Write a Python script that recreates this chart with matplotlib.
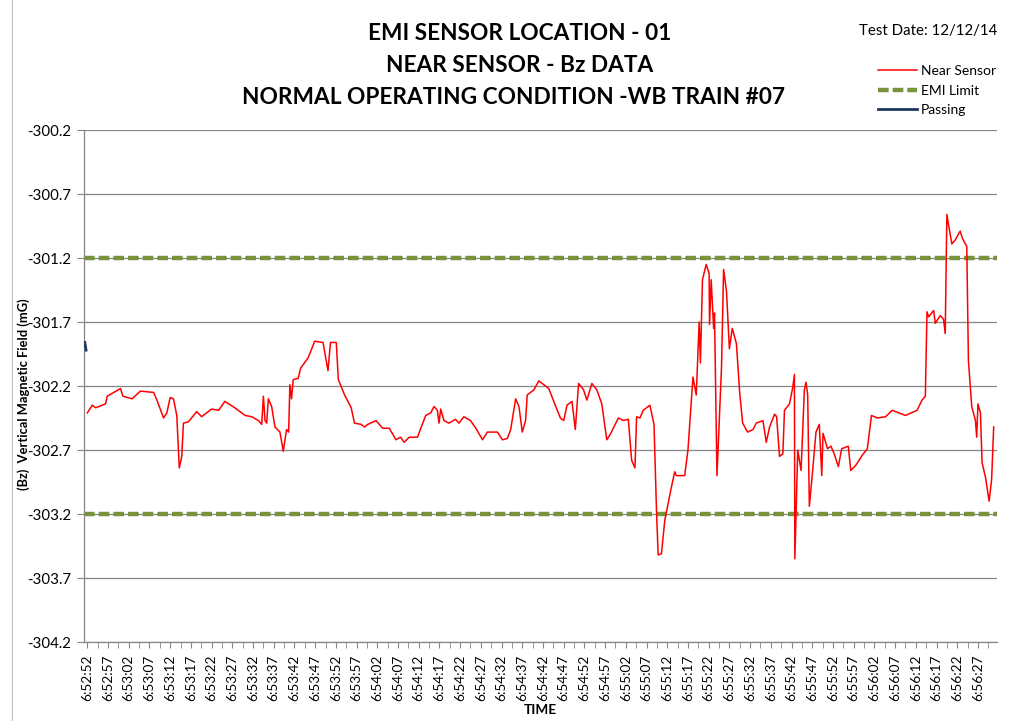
import matplotlib
matplotlib.use("Agg")
import matplotlib.pyplot as plt
from matplotlib.lines import Line2D
import numpy as np

plt.rcParams['font.family'] = ['Lato', 'DejaVu Sans']

# ---- data ----
start_time = (6, 52, 52)  # h, m, s
# seconds after 6:52:52
near_t = [0.0, 1.2, 2.0, 4.4, 4.8, 8.0, 8.6, 10.8, 12.8, 16.0, 16.8, 18.4, 19.2, 20.0, 20.8,
          21.6, 22.2, 22.8, 23.2, 24.4, 26.4, 27.6, 30.0, 31.7, 33.2, 35.6, 38.1, 39.7, 41.3,
          42.1, 42.5, 42.9, 43.3, 43.7, 44.5, 45.3, 46.5, 47.3, 48.1, 48.6, 48.9, 49.3, 49.7,
          50.9, 51.5, 53.3, 54.9, 56.9, 58.1, 58.7, 60.1, 60.6, 62.1, 63.7, 64.5, 66.1, 66.9,
          67.7, 69.7, 71.3, 72.9, 74.5, 75.6, 76.5, 77.7, 79.7, 80.5, 81.7, 82.9, 83.7, 84.5,
          84.9, 85.3, 86.1, 87.3, 88.9, 89.7, 90.9, 92.5, 93.8, 95.4, 96.6, 99.0, 100.2, 101.4,
          102.2, 103.4, 104.2, 105.0, 105.8, 106.2, 107.8, 109.0, 110.2, 111.4, 112.6, 114.2,
          115.0, 115.8, 117.0, 117.8, 118.6, 119.8, 120.6, 121.8, 123.0, 124.2, 125.4, 126.2,
          128.2, 129.4, 130.6, 131.4, 132.2, 132.6, 133.4, 134.2, 135.8, 136.8, 137.4, 137.8,
          138.6, 139.4, 141.0, 141.8, 142.2, 144.2, 145.0, 146.2, 147.0, 147.7, 148.0, 148.5,
          149.4, 150.1, 150.2, 150.6, 151.2, 151.4, 152.0, 152.6, 153.1, 153.6, 154.3, 155.0,
          155.7, 156.7, 157.5, 158.2, 159.4, 160.7, 161.5, 163.1, 163.9, 164.7, 165.9, 166.4,
          167.1, 167.9, 168.3, 169.5, 170.3, 170.7, 170.8, 171.5, 172.3, 173.1, 173.5, 173.9,
          174.3, 175.1, 175.9, 176.7, 177.3, 177.6, 178.7, 179.5, 180.3, 181.3, 182.1, 183.7,
          184.3, 185.5, 187.1, 188.3, 189.3, 190.7, 192.7, 194.3, 197.5, 200.3, 201.5, 202.3,
          202.7, 203.1, 204.3, 204.7, 205.9, 206.7, 207.1, 207.5, 207.9, 208.7, 209.5, 210.7,
          211.3, 212.3, 212.7, 213.5, 214.4, 214.7, 215.0, 215.6, 216.0, 216.8, 217.7, 218.3,
          218.8]
near_bz = [-302.41, -302.35, -302.37, -302.34, -302.28, -302.22, -302.28, -302.30, -302.24,
           -302.25, -302.31, -302.45, -302.41, -302.29, -302.30, -302.43, -302.84, -302.75,
           -302.49, -302.48, -302.40, -302.44, -302.38, -302.39, -302.32, -302.37, -302.43,
           -302.44, -302.47, -302.50, -302.28, -302.47, -302.49, -302.30, -302.36, -302.52,
           -302.56, -302.71, -302.54, -302.56, -302.19, -302.30, -302.15, -302.14, -302.06,
           -301.98, -301.85, -301.86, -302.08, -301.86, -301.86, -302.15, -302.27, -302.37,
           -302.49, -302.50, -302.52, -302.50, -302.47, -302.53, -302.53, -302.62, -302.60,
           -302.64, -302.60, -302.60, -302.53, -302.43, -302.41, -302.36, -302.39, -302.49,
           -302.38, -302.47, -302.49, -302.46, -302.49, -302.44, -302.47, -302.53, -302.62,
           -302.56, -302.56, -302.62, -302.61, -302.54, -302.30, -302.36, -302.56, -302.47,
           -302.27, -302.23, -302.16, -302.19, -302.22, -302.32, -302.45, -302.47, -302.35,
           -302.32, -302.54, -302.18, -302.23, -302.31, -302.18, -302.23, -302.34, -302.62,
           -302.58, -302.45, -302.47, -302.46, -302.78, -302.84, -302.44, -302.45, -302.39,
           -302.35, -302.50, -303.17, -303.52, -303.51, -303.25, -302.99, -302.87, -302.90,
           -302.90, -302.70, -302.13, -302.27, -301.70, -302.02, -301.37, -301.25, -301.32,
           -301.72, -301.37, -301.75, -301.63, -302.90, -302.44, -302.05, -301.29, -301.46,
           -301.91, -301.75, -301.87, -302.26, -302.49, -302.56, -302.54, -302.49, -302.47,
           -302.64, -302.52, -302.42, -302.44, -302.75, -302.73, -302.39, -302.34, -302.21,
           -302.11, -303.55, -302.70, -302.86, -302.23, -302.17, -302.27, -303.14, -302.86,
           -302.56, -302.50, -302.90, -302.57, -302.69, -302.67, -302.73, -302.83, -302.69,
           -302.67, -302.86, -302.82, -302.74, -302.69, -302.43, -302.45, -302.44, -302.39,
           -302.43, -302.39, -302.31, -302.28, -301.62, -301.66, -301.61, -301.71, -301.65,
           -301.68, -301.79, -300.86, -300.94, -301.09, -301.06, -300.99, -301.05, -301.11,
           -302.00, -302.36, -302.47, -302.60, -302.34, -302.41, -302.80, -302.91, -303.10,
           -302.93, -302.52]
passing_t = [-0.6, -0.3]
passing_bz = [-301.86, -301.92]
emi_limits = [-301.2, -303.2]
y_ticks = [-304.2, -303.7, -303.2, -302.7, -302.2, -301.7, -301.2, -300.7, -300.2]
label_step = 5
n_labels = 44

title_lines = ["EMI SENSOR LOCATION - 01", "NEAR SENSOR - Bz DATA",
               "NORMAL OPERATING CONDITION -WB TRAIN #07"]

def fmt_time(sec):
    h, m, s = start_time
    tot = h * 3600 + m * 60 + s + int(round(sec))
    return f"{tot // 3600}:{(tot % 3600) // 60:02d}:{tot % 60:02d}"

# ---- figure ----
W, H = 1023, 721
fig = plt.figure(figsize=(W / 100, H / 100), dpi=100)
ax = fig.add_axes([84 / W, 1 - 642 / H, (997 - 84) / W, (642 - 130) / H])

grid_c = '#868686'
for v in y_ticks:
    ax.axhline(v, color=grid_c, lw=0.9, zorder=1)

t_max = 219.6
t_min = -0.8
for v in emi_limits:
    ax.plot([t_min, t_max], [v, v], color='#77933C', lw=3.2,
            linestyle=(0, (2.4, 0.9)), zorder=2)
ax.plot(near_t, near_bz, color='#FF0000', lw=1.1, zorder=3)
ax.plot(passing_t, passing_bz, color='#1F3864', lw=2.0, zorder=4)

ax.set_xlim(t_min, t_max)
ax.set_ylim(-304.2, -300.2)
ax.set_yticks(y_ticks)
ax.set_yticklabels([f"{v:.1f}" for v in y_ticks])

major = [i * label_step for i in range(n_labels)]
ax.set_xticks(major)
ax.set_xticklabels([fmt_time(s) for s in major], rotation=90, fontsize=9.8)
ax.set_xticks([s + 2.5 for s in major], minor=True)
ax.tick_params(axis='x', which='both', length=4, color=grid_c, pad=5)
ax.tick_params(axis='y', length=5, color=grid_c, labelsize=10.8, pad=4)

for s in ['top', 'right']:
    ax.spines[s].set_visible(False)
for s in ['left', 'bottom']:
    ax.spines[s].set_color(grid_c)
    ax.spines[s].set_linewidth(0.9)

ax.set_ylabel("(Bz)  Vertical Magnetic Field (mG)", fontsize=9.3,
              fontweight='bold')
ax.yaxis.set_label_coords((30 - 84) / 913, (642 - 394) / 512)
ax.set_xlabel("TIME", fontsize=9.8, fontweight='bold', labelpad=2)

title_x = [520, 520, 513]
for i, line in enumerate(title_lines):
    fig.text(title_x[i] / W, 1 - (33 + 32 * i) / H, line, ha='center', va='center',
             fontsize=16.3, fontweight='bold')

fig.text(997 / W, 1 - 31 / H, "Test Date: 12/12/14", ha='right', va='center',
         fontsize=10.8)

handles = [Line2D([], [], color='#FF0000', lw=1.1),
           Line2D([], [], color='#77933C', lw=3.2, linestyle=(0, (2.4, 0.9))),
           Line2D([], [], color='#1F3864', lw=2.0)]
fig.legend(handles, ["Near Sensor", "EMI Limit", "Passing"], loc='upper left',
           bbox_to_anchor=(878 / W, 1 - 65 / H), frameon=False, fontsize=10,
           handlelength=2.8, handletextpad=0.3, labelspacing=0.55, borderpad=0,
           borderaxespad=0)

fig.add_artist(Line2D([12 / W, 12 / W], [0, 1], color='#BFBFBF', lw=0.8))

fig.savefig("out.png", dpi=100)
